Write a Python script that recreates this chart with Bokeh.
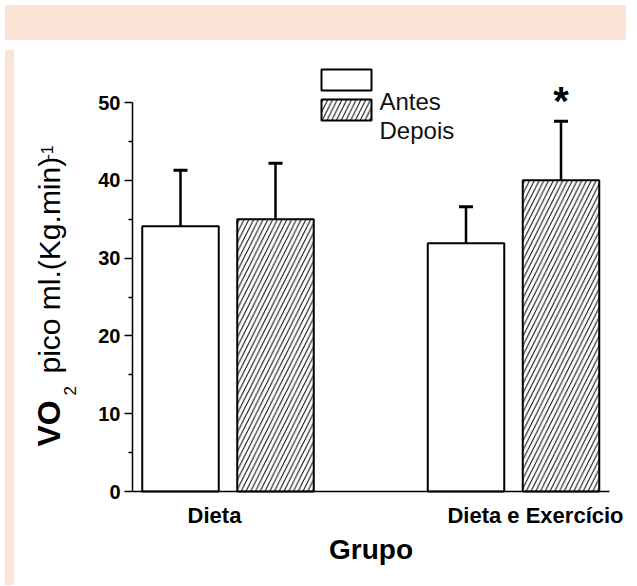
import math
from bokeh.plotting import figure
from bokeh.models import (Range1d, FixedTicker, Whisker, TeeHead, ColumnDataSource,
                          Label, Div, LinearAxis, CustomJSTickFormatter)
from bokeh.layouts import column, row
from bokeh.embed import file_html
from bokeh.resources import INLINE
from bokeh.core.properties import value

# ---------------- data ----------------
groups = ["Dieta", "Dieta e Exercício"]
antes = [34.1, 31.9]
antes_err = [7.2, 4.7]
depois = [35.0, 40.0]
depois_err = [7.2, 7.6]
depois_sig = ["", "*"]
y_ticks = [0, 10, 20, 30, 40, 50]
y_minor = [5, 15, 25, 35, 45]
legend_labels = ["Antes", "Depois"]
x_title = "Grupo"

# ---------------- layout constants (page pixels) ----------------
PEACH = "#fce3d8"
FONT = "Liberation Sans"
CANVAS_L, CANVAS_T, CANVAS_R, CANVAS_B = 17, 43, 629, 578
AXIS_L, AXIS_R, AXIS_B = 130, 607, 489
G0_PX, G_STEP_PX = 225.5, 285.5
PX_PER_Y = 7.78
BAR_W_PX = 76.5
BAR_OFF_PX = 47.5
LABEL_SHIFT_PX = [-13.5, 22]
HATCH_SCALE = 9.5


def dx(px):
    return (px - G0_PX) / G_STEP_PX


def dy(py):
    return (AXIS_B - py) / PX_PER_Y


BAR_W = BAR_W_PX / G_STEP_PX
OFF = BAR_OFF_PX / G_STEP_PX
xs = list(range(len(groups)))

p = figure(width=CANVAS_R - CANVAS_L, height=CANVAS_B - CANVAS_T,
           x_range=Range1d(dx(CANVAS_L), dx(CANVAS_R)),
           y_range=Range1d(dy(CANVAS_B), dy(CANVAS_T)),
           x_axis_location=None, y_axis_location=None,
           output_backend="svg", toolbar_location=None,
           min_border=0, background_fill_color="white", border_fill_color="white",
           outline_line_color=None)
p.grid.visible = False

src_a = ColumnDataSource(dict(x=[i - OFF for i in xs], top=antes,
                              upper=[a + e for a, e in zip(antes, antes_err)]))
src_d = ColumnDataSource(dict(x=[i + OFF for i in xs], top=depois,
                              upper=[a + e for a, e in zip(depois, depois_err)],
                              sig=depois_sig))

for src in (src_a, src_d):
    w = Whisker(source=src, base="x", lower="top", upper="upper", dimension="height",
                line_color="black", line_width=2.5,
                upper_head=TeeHead(size=14, line_width=3, line_color="black"),
                lower_head=None)
    p.add_layout(w)

p.vbar(x="x", top="top", bottom=0, width=BAR_W, source=src_a,
       fill_color="white", line_color="black", line_width=2)
p.vbar(x="x", top="top", bottom=0, width=BAR_W, source=src_d,
       fill_color="white", hatch_pattern="/", hatch_color="black",
       hatch_scale=HATCH_SCALE, hatch_weight=1, line_color="black", line_width=2)

p.text(x="x", y="upper", text="sig", source=src_d, text_font=value(FONT),
       text_font_style="bold", text_font_size="40px", text_align="center",
       text_baseline="alphabetic", text_color="black", y_offset=-20)

# y axis
ya = LinearAxis(fixed_location=dx(AXIS_L), bounds=(0, 50),
                ticker=FixedTicker(ticks=y_ticks, minor_ticks=y_minor))
ya.major_tick_out = 8
ya.major_tick_in = 0
ya.minor_tick_out = 4
ya.minor_tick_in = 0
ya.axis_line_width = 1.5
ya.major_tick_line_width = 1.5
ya.minor_tick_line_width = 1.5
ya.major_label_text_font = FONT
ya.major_label_text_font_style = "bold"
ya.major_label_text_font_size = "20px"
ya.major_label_text_color = "black"
ya.major_label_standoff = 4
p.add_layout(ya, "left")

# x axis
tick_pos = [i + LABEL_SHIFT_PX[i] / G_STEP_PX for i in xs]
xa = LinearAxis(fixed_location=0, bounds=(dx(AXIS_L), dx(AXIS_R)),
                ticker=FixedTicker(ticks=tick_pos, minor_ticks=[]),
                formatter=CustomJSTickFormatter(args=dict(labels=groups),
                                                code="return labels[index];"))
xa.axis_line_width = 1.5
xa.major_tick_out = 0
xa.major_tick_in = 0
xa.minor_tick_out = 0
xa.minor_tick_in = 0
xa.major_label_text_font = FONT
xa.major_label_text_font_style = "bold"
xa.major_label_text_font_size = "22px"
xa.major_label_text_color = "black"
xa.major_label_standoff = 11
xa.axis_label = x_title
xa.axis_label_text_font = FONT
xa.axis_label_text_font_style = "bold"
xa.axis_label_text_font_size = "28px"
xa.axis_label_text_color = "black"
xa.axis_label_standoff = 3
p.add_layout(xa, "below")

# y axis title (composite: bold VO, subscript 2, superscript -1)
ylab = [
    ("VO", 46, 444, "32px", "bold"),
    ("2", 67, 393, "17px", "normal"),
    ("pico ml.(Kg.min)", 47, 371, "30px", "normal"),
    ("-1", 44, 157, "16px", "normal"),
]
for t, px, py, fs, st in ylab:
    p.add_layout(Label(x=dx(px), y=dy(py), text=t, angle=math.pi / 2,
                       text_font=FONT, text_font_style=st, text_font_size=fs,
                       text_align="left", text_baseline="alphabetic", text_color="black"))

# legend (custom, as drawn in the reference)
p.quad(left=[dx(319)], right=[dx(369)], top=[dy(67)], bottom=[dy(88)],
       fill_color="white", line_color="black", line_width=2)
p.quad(left=[dx(319)], right=[dx(369)], top=[dy(97)], bottom=[dy(118)],
       fill_color="white", hatch_pattern="/", hatch_color="black",
       hatch_scale=HATCH_SCALE, hatch_weight=1, line_color="black", line_width=2)
p.text(x=[dx(377), dx(377)], y=[dy(99), dy(128)], text=legend_labels,
       text_font=value(FONT), text_font_size="24px", text_align="left",
       text_baseline="alphabetic", text_color="#111111")

top_band = Div(width=621, height=CANVAS_T - 8, styles={"background-color": PEACH})
left_band = Div(width=CANVAS_L - 8, height=CANVAS_B - CANVAS_T,
                styles={"background-color": PEACH})
layout = column(top_band, row(left_band, p))

open("out.html", "w").write(file_html(layout, INLINE))
